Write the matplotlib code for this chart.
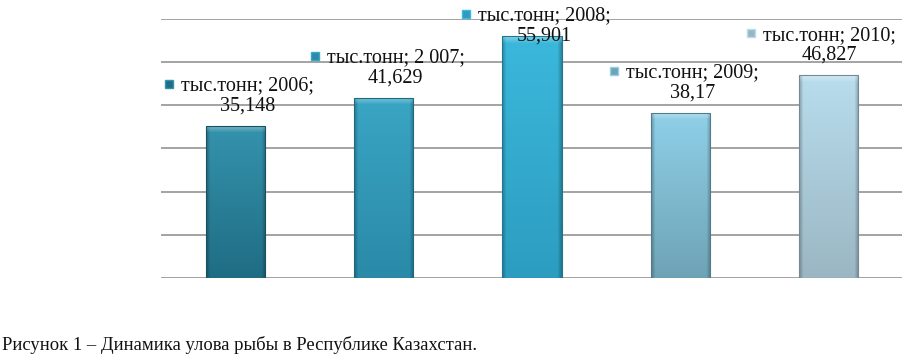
import numpy as np
import matplotlib
matplotlib.use("Agg")
import matplotlib.pyplot as plt
import matplotlib.colors as mcolors

years = ["2006", "2 007", "2008", "2009", "2010"]
values = [35.148, 41.629, 55.901, 38.17, 46.827]
unit = "тыс.тонн"
caption = "Рисунок 1 – Динамика улова рыбы в Республике Казахстан."

# top / bottom colour of each bar gradient
top_colors = ["#3593ad", "#3aa5c4", "#3bb8dc", "#8fd0e8", "#b8dded"]
bottom_colors = ["#1f6d84", "#2a8aa8", "#2c9dc0", "#6ea3b5", "#9bb6c3"]

plt.rcParams["font.family"] = ["Liberation Serif", "DejaVu Serif"]

W, H = 904, 360
fig = plt.figure(figsize=(W / 100, H / 100), dpi=100)
ax = fig.add_axes([161.5 / W, (H - 278) / H, 741 / W, 259.5 / H])
ax.set_xlim(-0.5, len(values) - 0.5)
ax.set_ylim(0, 60)
for s in ax.spines.values():
    s.set_visible(False)
ax.set_xticks([])
ax.set_yticks([])
for g in range(0, 61, 10):
    ax.axhline(g, color="#9c9c9c", lw=1.3, zorder=1)

x = np.arange(len(values))
bars = ax.bar(x, values, width=0.4, color=bottom_colors, zorder=2)

px_x = 1.0 / (741 / 5.0)   # data units per pixel, horizontally
px_y = 60.0 / 259.5        # data units per pixel, vertically


def shade(c_top, c_bot, w_px, h_px):
    t = np.linspace(0, 1, h_px)[:, None, None]
    a = np.array(mcolors.to_rgb(c_top))
    b = np.array(mcolors.to_rgb(c_bot))
    img = a * (1 - t) + b * t
    img = np.repeat(img, w_px, axis=1)
    cols = np.arange(w_px)
    rows = np.arange(h_px)
    # darker sides
    side = np.clip(1 - np.minimum(cols, w_px - 1 - cols) / 4.0, 0, 1)
    img = img * (1 - 0.25 * side[None, :, None])
    # light bevel on top
    bev = np.clip(1 - rows / 7.0, 0, 1)
    img = img + (1 - img) * 0.35 * bev[:, None, None]
    return np.clip(img, 0, 1)


for b, ct, cb in zip(bars, top_colors, bottom_colors):
    x0, w, h = b.get_x(), b.get_width(), b.get_height()
    wpx = int(round(w / px_x))
    hpx = int(round(h / px_y))
    im = ax.imshow(shade(ct, cb, wpx, hpx), extent=[x0, x0 + w, 0, h],
                   aspect="auto", zorder=3, interpolation="bilinear")
    im.set_clip_path(b)
    b.set_edgecolor(mcolors.to_rgb(cb) * np.array(0.75))
    b.set_linewidth(0.8)
    b.set_zorder(4)
    b.set_facecolor("none")

fig.canvas.draw()
renderer = fig.canvas.get_renderer()
fs = 14.5
for i, (yr, v) in enumerate(zip(years, values)):
    px, py = ax.transData.transform((i, v))
    line1_y = min(py + 40, H - 16)
    line2_y = line1_y - 20
    cx = px + 12
    if cx + 70 > W - 5:
        cx = W - 5 - 70
    t1 = fig.text(cx, line1_y, "%s; %s;" % (unit, yr), transform=None,
                  ha="center", va="center", fontsize=fs, color="#111111", zorder=6)
    fig.text(cx, line2_y, ("%g" % v).replace(".", ","), transform=None,
             ha="center", va="center", fontsize=fs, color="#111111", zorder=6)
    bb = t1.get_window_extent(renderer)
    fig.add_artist(plt.Line2D([bb.x0 - 12], [line1_y + 2], transform=None,
                              marker="s", markersize=6, color=bottom_colors[i],
                              markeredgecolor=top_colors[i], zorder=6))

fig.text(2 / W, 15 / H, caption, ha="left", va="center", fontsize=13.4, color="#111111")

fig.savefig("out.png", dpi=100)
